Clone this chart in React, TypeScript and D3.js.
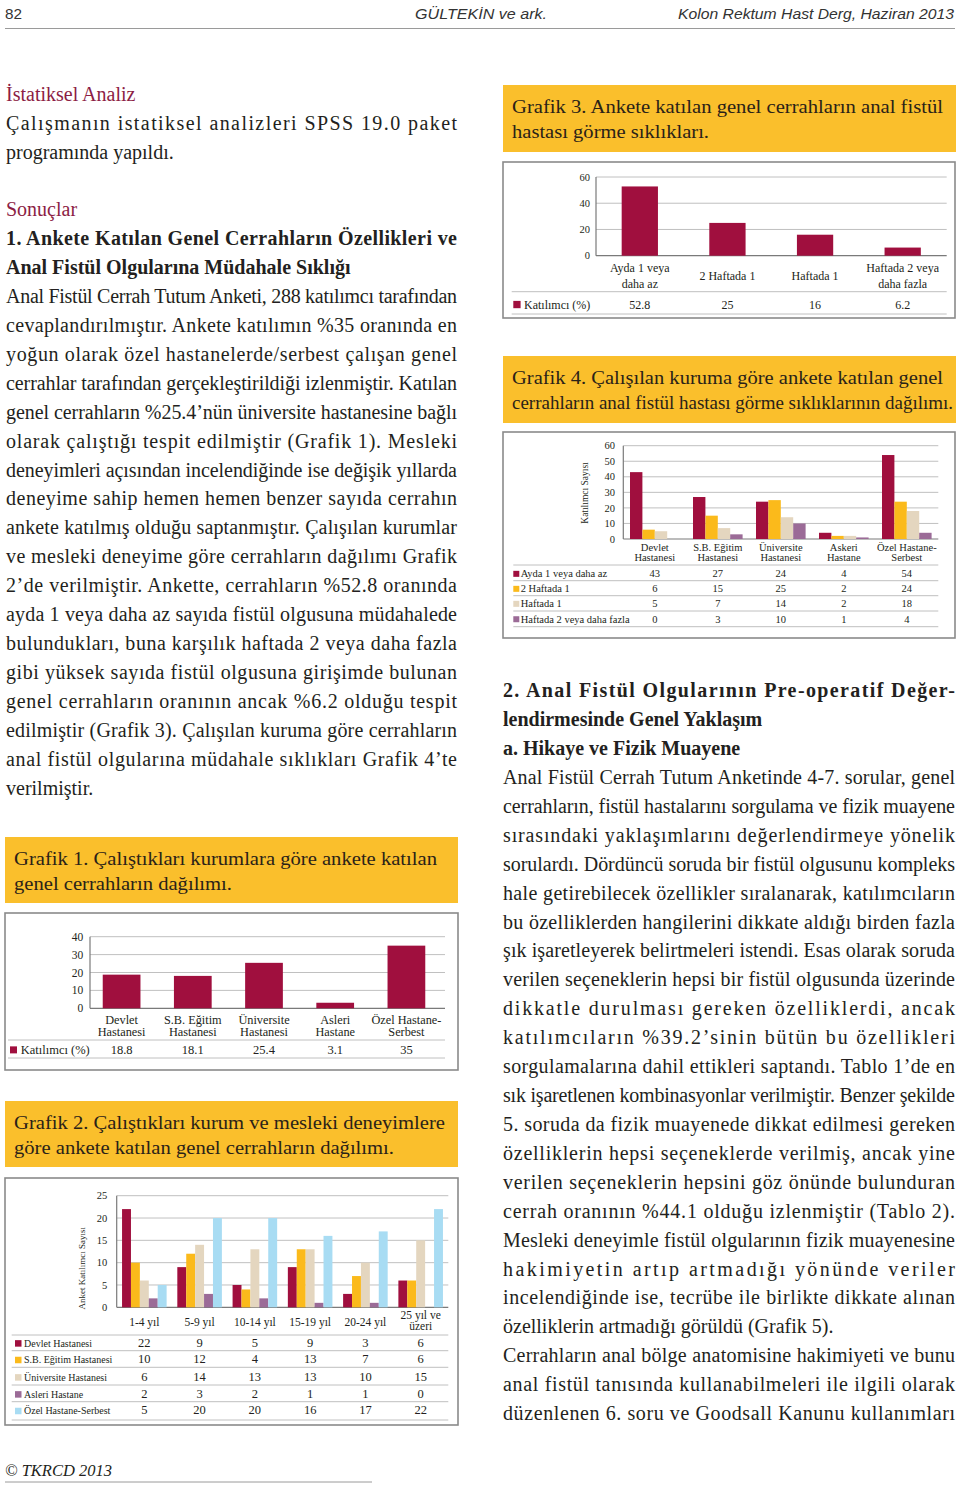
import React from "react";
import * as d3 from "d3";

const SERIF = "'Liberation Serif', 'Times New Roman', serif";
const SANS = "'Liberation Sans', Arial, sans-serif";
const INK = "#231f20";
const MAROON_HEAD = "#8c1d44";
const CAPTION_BG = "#fabf2c";

// ---------- Chart data ----------
// Grafik 1
const g1Categories = ["Devlet\nHastanesi", "S.B. Eğitim\nHastanesi", "Üniversite\nHastanesi", "Asleri\nHastane", "Özel Hastane-\nSerbest"];
const g1Values = [18.8, 18.1, 25.4, 3.1, 35];
const g1Ticks = [0, 10, 20, 30, 40];
const g1SeriesName = "Katılımcı (%)";

// Grafik 2
const g2Categories = ["1-4 yıl", "5-9 yıl", "10-14 yıl", "15-19 yıl", "20-24 yıl", "25 yıl ve\nüzeri"];
const g2SeriesNames = ["Devlet Hastanesi", "S.B. Eğitim Hastanesi", "Üniversite Hastanesi", "Asleri Hastane", "Özel Hastane-Serbest"];
const g2Devlet = [22, 9, 5, 9, 3, 6];
const g2Egitim = [10, 12, 4, 13, 7, 6];
const g2Universite = [6, 14, 13, 13, 10, 15];
const g2Askeri = [2, 3, 2, 1, 1, 0];
const g2Ozel = [5, 20, 20, 16, 17, 22];
const g2Ticks = [0, 5, 10, 15, 20, 25];

// Grafik 3
const g3Categories = ["Ayda 1 veya\ndaha az", "2 Haftada 1", "Haftada 1", "Haftada 2 veya\ndaha fazla"];
const g3Values = [52.8, 25, 16, 6.2];
const g3Ticks = [0, 20, 40, 60];
const g3SeriesName = "Katılımcı (%)";

// Grafik 4
const g4Categories = ["Devlet\nHastanesi", "S.B. Eğitim\nHastanesi", "Üniversite\nHastanesi", "Askeri\nHastane", "Özel Hastane-\nSerbest"];
const g4SeriesNames = ["Ayda 1 veya daha az", "2 Haftada 1", "Haftada 1", "Haftada 2 veya daha fazla"];
const g4Ayda = [43, 27, 24, 4, 54];
const g4IkiHafta = [6, 15, 25, 2, 24];
const g4Haftada1 = [5, 7, 14, 2, 18];
const g4Haftada2 = [0, 3, 10, 1, 4];
const g4Ticks = [0, 10, 20, 30, 40, 50, 60];

const COLORS = ["#a00f3e", "#fbba1b", "#e4d6bf", "#9b6b97", "#a8dcf3"];

// ---------- Page text ----------
type Line = [string, string, boolean]; // text, style, justify
const leftLines: Line[] = [
  ["İstatiksel Analiz", "head", false],
  ["Çalışmanın istatiksel analizleri SPSS 19.0 paket", "body", true],
  ["programında yapıldı.", "body", false],
  ["", "body", false],
  ["Sonuçlar", "head", false],
  ["1. Ankete Katılan Genel Cerrahların Özellikleri ve", "bold", true],
  ["Anal Fistül Olgularına Müdahale Sıklığı", "bold", false],
  ["Anal Fistül Cerrah Tutum Anketi, 288 katılımcı tarafından", "body", true],
  ["cevaplandırılmıştır. Ankete katılımın %35 oranında en", "body", true],
  ["yoğun olarak özel hastanelerde/serbest çalışan genel", "body", true],
  ["cerrahlar tarafından gerçekleştirildiği izlenmiştir. Katılan", "body", true],
  ["genel cerrahların %25.4’nün üniversite hastanesine bağlı", "body", true],
  ["olarak çalıştığı tespit edilmiştir (Grafik 1). Mesleki", "body", true],
  ["deneyimleri açısından incelendiğinde ise değişik yıllarda", "body", true],
  ["deneyime sahip hemen hemen benzer sayıda cerrahın", "body", true],
  ["ankete katılmış olduğu saptanmıştır. Çalışılan kurumlar", "body", true],
  ["ve mesleki deneyime göre cerrahların dağılımı Grafik", "body", true],
  ["2’de verilmiştir. Ankette, cerrahların %52.8 oranında", "body", true],
  ["ayda 1 veya daha az sayıda fistül olgusuna müdahalede", "body", true],
  ["bulundukları, buna karşılık haftada 2 veya daha fazla", "body", true],
  ["gibi yüksek sayıda fistül olgusuna girişimde bulunan", "body", true],
  ["genel cerrahların oranının ancak %6.2 olduğu tespit", "body", true],
  ["edilmiştir (Grafik 3). Çalışılan kuruma göre cerrahların", "body", true],
  ["anal fistül olgularına müdahale sıklıkları Grafik 4’te", "body", true],
  ["verilmiştir.", "body", false],
];
const rightLines: Line[] = [
  ["2. Anal Fistül Olgularının Pre-operatif Değer-", "bold", true],
  ["lendirmesinde Genel Yaklaşım", "bold", false],
  ["a. Hikaye ve Fizik Muayene", "bold", false],
  ["Anal Fistül Cerrah Tutum Anketinde 4-7. sorular, genel", "body", true],
  ["cerrahların, fistül hastalarını sorgulama ve fizik muayene", "body", true],
  ["sırasındaki yaklaşımlarını değerlendirmeye yönelik", "body", true],
  ["sorulardı. Dördüncü soruda bir fistül olgusunu kompleks", "body", true],
  ["hale getirebilecek özellikler sıralanarak, katılımcıların", "body", true],
  ["bu özelliklerden hangilerini dikkate aldığı birden fazla", "body", true],
  ["şık işaretleyerek belirtmeleri istendi. Esas olarak soruda", "body", true],
  ["verilen seçeneklerin hepsi bir fistül olgusunda üzerinde", "body", true],
  ["dikkatle durulması gereken özelliklerdi, ancak", "body", true],
  ["katılımcıların %39.2’sinin bütün bu özellikleri", "body", true],
  ["sorgulamalarına dahil ettikleri saptandı. Tablo 1’de en", "body", true],
  ["sık işaretlenen kombinasyonlar verilmiştir. Benzer şekilde", "body", true],
  ["5. soruda da fizik muayenede dikkat edilmesi gereken", "body", true],
  ["özelliklerin hepsi seçeneklerde verilmiş, ancak yine", "body", true],
  ["verilen seçeneklerin hepsini göz önünde bulunduran", "body", true],
  ["cerrah oranının %44.1 olduğu izlenmiştir (Tablo 2).", "body", true],
  ["Mesleki deneyimle fistül olgularının fizik muayenesine", "body", true],
  ["hakimiyetin artıp artmadığı yönünde veriler", "body", true],
  ["incelendiğinde ise, tecrübe ile birlikte dikkate alınan", "body", true],
  ["özelliklerin artmadığı görüldü (Grafik 5).", "body", false],
  ["Cerrahların anal bölge anatomisine hakimiyeti ve bunu", "body", true],
  ["anal fistül tanısında kullanabilmeleri ile ilgili olarak", "body", true],
  ["düzenlenen 6. soru ve Goodsall Kanunu kullanımları", "body", true],
];

// caption lines with their printed widths
const caption1: [string, number][] = [["Grafik 1. Çalıştıkları kurumlara göre ankete katılan", 423], ["genel cerrahların dağılımı.", 218]];
const caption2: [string, number][] = [["Grafik 2. Çalıştıkları kurum ve mesleki deneyimlere", 431], ["göre ankete katılan genel cerrahların dağılımı.", 380]];
const caption3: [string, number][] = [["Grafik 3. Ankete katılan genel cerrahların anal fistül", 431], ["hastası görme sıklıkları.", 197]];
const caption4: [string, number][] = [["Grafik 4. Çalışılan kuruma göre ankete katılan genel", 431], ["cerrahların anal fistül hastası görme sıklıklarının dağılımı.", 441]];

const FONT_SIZE = 20;
const CAPTION_SIZE = 19;
const PITCH = 28.91;

function Column({ lines, x, y0, width }: { lines: Line[]; x: number; y0: number; width: number }) {
  return (
    <g>
      {lines.map(([t, style, just], i) =>
        t ? (
          <text
            key={i}
            x={x}
            y={y0 + i * PITCH}
            fontFamily={SERIF}
            fontSize={FONT_SIZE}
            fontWeight={style === "bold" ? "bold" : "normal"}
            fill={style === "head" ? MAROON_HEAD : INK}
            {...(just ? { textLength: width, lengthAdjust: "spacing" } : {})}
          >
            {t}
          </text>
        ) : null
      )}
    </g>
  );
}

function Caption({ box, lines }: { box: number[]; lines: [string, number][] }) {
  const [x, y, w, h] = box;
  return (
    <g>
      <rect x={x} y={y} width={w} height={h} fill={CAPTION_BG} />
      {lines.map(([t, len], i) => (
        <text
          key={i}
          x={x + 9}
          y={y + 27.5 + i * 25}
          fontFamily={SERIF}
          fontSize={CAPTION_SIZE}
          fill="#2a2218"
          textLength={len}
          lengthAdjust="spacingAndGlyphs"
        >
          {t}
        </text>
      ))}
    </g>
  );
}

type Series = { name: string; color: string; values: number[] };
type ChartProps = {
  box: number[];
  axisX: number;
  gridRight: number;
  yTop: number;
  yBottom: number;
  yMax: number;
  ticks: number[];
  tickRight: number;
  tickFont: number;
  categories: string[];
  series: Series[];
  bandRange: [number, number];
  barPadInner?: number;
  groupPadOuter?: number;
  catFont: number;
  catTwo: [number, number];
  catOne: number;
  tableLeft: number;
  tableLines: number[];
  rowBaselines: number[];
  legendSquareX: number;
  legendSquareSize: number;
  legendTextX: number;
  legendFont: number;
  valueFont: number;
  yTitle?: { text: string; x: number; y: number; font: number };
};

function BarChart(p: ChartProps) {
  const [bx, by, bw, bh] = p.box;
  const y = d3.scaleLinear().domain([0, p.yMax]).range([p.yBottom, p.yTop]);
  const single = p.series.length === 1;
  const x = d3
    .scaleBand()
    .domain(p.categories)
    .range(p.bandRange)
    .paddingInner(single ? p.barPadInner ?? 0.5 : 0)
    .paddingOuter(single ? (p.barPadInner ?? 0.5) / 2 : 0);
  const inner = d3
    .scaleBand()
    .domain(p.series.map((s) => s.name))
    .range([0, x.bandwidth()])
    .paddingInner(0)
    .paddingOuter(single ? 0 : p.groupPadOuter ?? 0.5);
  const center = (c: string) => (x(c) as number) + x.bandwidth() / 2;
  return (
    <g>
      <rect x={bx} y={by} width={bw} height={bh} fill="#fff" stroke="#8a8a8a" strokeWidth={1.6} />
      {p.ticks.map((t) => (
        <g key={t}>
          <line
            x1={p.axisX}
            x2={p.gridRight}
            y1={y(t)}
            y2={y(t)}
            stroke={t === 0 ? "#7a7a7a" : "#b9b9b9"}
            strokeWidth={t === 0 ? 1.2 : 0.9}
          />
          <text x={p.tickRight} y={y(t) + p.tickFont * 0.35} textAnchor="end" fontFamily={SERIF} fontSize={p.tickFont} fill={INK}>
            {t}
          </text>
        </g>
      ))}
      <line x1={p.axisX} x2={p.axisX} y1={p.yTop} y2={p.yBottom} stroke="#7a7a7a" strokeWidth={1.2} />
      {p.series.map((s) =>
        p.categories.map((c, i) => (
          <rect
            key={s.name + c}
            x={(x(c) as number) + (inner(s.name) as number)}
            y={y(s.values[i])}
            width={inner.bandwidth()}
            height={p.yBottom - y(s.values[i])}
            fill={s.color}
          />
        ))
      )}
      {p.categories.map((c) => {
        const parts = c.split("\n");
        return parts.map((t, j) => (
          <text
            key={c + j}
            x={center(c)}
            y={parts.length === 1 ? p.catOne : p.catTwo[j]}
            textAnchor="middle"
            fontFamily={SERIF}
            fontSize={p.catFont}
            fill={INK}
          >
            {t}
          </text>
        ));
      })}
      {p.tableLines.map((ly, i) => (
        <line key={"tl" + i} x1={p.tableLeft} x2={p.gridRight} y1={ly} y2={ly} stroke="#b9b9b9" strokeWidth={0.9} />
      ))}
      {p.series.map((s, si) => {
        const base = p.rowBaselines[si];
        return (
          <g key={"row" + s.name}>
            <rect
              x={p.legendSquareX}
              y={base - p.legendFont * 0.33 - p.legendSquareSize / 2}
              width={p.legendSquareSize}
              height={p.legendSquareSize}
              fill={s.color}
            />
            <text x={p.legendTextX} y={base} fontFamily={SERIF} fontSize={p.legendFont} fill={INK}>
              {s.name}
            </text>
            {p.categories.map((c, i) => (
              <text key={c} x={center(c)} y={base} textAnchor="middle" fontFamily={SERIF} fontSize={p.valueFont} fill={INK}>
                {s.values[i]}
              </text>
            ))}
          </g>
        );
      })}
      {p.yTitle && (
        <text
          transform={`translate(${p.yTitle.x},${p.yTitle.y}) rotate(-90)`}
          textAnchor="middle"
          dominantBaseline="central"
          fontFamily={SERIF}
          fontSize={p.yTitle.font}
          fill={INK}
        >
          {p.yTitle.text}
        </text>
      )}
    </g>
  );
}

export default function App() {
  const g1Series: Series[] = [{ name: g1SeriesName, color: COLORS[0], values: g1Values }];
  const g2Series: Series[] = [g2Devlet, g2Egitim, g2Universite, g2Askeri, g2Ozel].map((v, i) => ({
    name: g2SeriesNames[i],
    color: COLORS[i],
    values: v,
  }));
  const g3Series: Series[] = [{ name: g3SeriesName, color: COLORS[0], values: g3Values }];
  const g4Series: Series[] = [g4Ayda, g4IkiHafta, g4Haftada1, g4Haftada2].map((v, i) => ({
    name: g4SeriesNames[i],
    color: COLORS[i],
    values: v,
  }));

  return (
    <svg
      width={960}
      height={1486}
      viewBox="0 0 960 1486"
      style={{ position: "absolute", left: 0, top: 0, display: "block" }}
    >
      <rect x={0} y={0} width={960} height={1486} fill="#fff" />
      {/* header */}
      <text x={5} y={19} fontFamily={SANS} fontSize={15.5} fill="#333" textLength={17} lengthAdjust="spacingAndGlyphs">
        82
      </text>
      <text x={415} y={19} fontFamily={SANS} fontStyle="italic" fontSize={15.5} fill="#333" textLength={132} lengthAdjust="spacingAndGlyphs">
        GÜLTEKİN ve ark.
      </text>
      <text x={678} y={19} fontFamily={SANS} fontStyle="italic" fontSize={15.5} fill="#333" textLength={276} lengthAdjust="spacingAndGlyphs">
        Kolon Rektum Hast Derg, Haziran 2013
      </text>
      <line x1={5} x2={955} y1={28.5} y2={28.5} stroke="#9a9a9a" strokeWidth={1} />

      <Column lines={leftLines} x={6} y0={100.7} width={451} />
      <Column lines={rightLines} x={503} y0={697.3} width={452} />

      <Caption box={[503, 85, 453, 67]} lines={caption3} />
      <BarChart
        box={[503, 162, 452, 156]}
        axisX={596}
        gridRight={946.7}
        yTop={177}
        yBottom={255.7}
        yMax={60}
        ticks={g3Ticks}
        tickRight={590}
        tickFont={10.5}
        categories={g3Categories}
        series={g3Series}
        bandRange={[596, 946.5]}
        barPadInner={0.586}
        catFont={12}
        catTwo={[272.3, 288]}
        catOne={280}
        tableLeft={511.7}
        tableLines={[291.7, 314]}
        rowBaselines={[308.5]}
        legendSquareX={513.3}
        legendSquareSize={7.3}
        legendTextX={524}
        legendFont={12}
        valueFont={12}
      />

      <Caption box={[503, 356, 453, 67]} lines={caption4} />
      <BarChart
        box={[503, 432, 452, 206]}
        axisX={623.3}
        gridRight={938.3}
        yTop={445.7}
        yBottom={539}
        yMax={60}
        ticks={g4Ticks}
        tickRight={615}
        tickFont={10.5}
        categories={g4Categories}
        series={g4Series}
        bandRange={[623.3, 938.3]}
        groupPadOuter={0.54}
        catFont={10.5}
        catTwo={[550.7, 560.7]}
        catOne={555}
        tableLeft={513.3}
        tableLines={[565, 580.7, 595.7, 611, 626.7]}
        rowBaselines={[577.3, 592.3, 607.3, 622.7]}
        legendSquareX={513.3}
        legendSquareSize={6}
        legendTextX={520.7}
        legendFont={10.5}
        valueFont={10.5}
        yTitle={{ text: "Katılımcı Sayısı", x: 585, y: 493, font: 9.5 }}
      />

      <Caption box={[5, 837, 453, 66]} lines={caption1} />
      <BarChart
        box={[5, 913, 453, 157]}
        axisX={90}
        gridRight={445}
        yTop={936.7}
        yBottom={1008.3}
        yMax={40}
        ticks={g1Ticks}
        tickRight={83.3}
        tickFont={11.5}
        categories={g1Categories}
        series={g1Series}
        bandRange={[86, 442]}
        barPadInner={0.47}
        catFont={12.3}
        catTwo={[1024, 1036]}
        catOne={1030}
        tableLeft={8}
        tableLines={[1040, 1058]}
        rowBaselines={[1054]}
        legendSquareX={10}
        legendSquareSize={7}
        legendTextX={20.7}
        legendFont={12.5}
        valueFont={12.5}
      />

      <Caption box={[5, 1101, 453, 66]} lines={caption2} />
      <BarChart
        box={[5, 1178, 453, 247]}
        axisX={116.7}
        gridRight={448.3}
        yTop={1195.7}
        yBottom={1307.3}
        yMax={25}
        ticks={g2Ticks}
        tickRight={107.3}
        tickFont={10.5}
        categories={g2Categories}
        series={g2Series}
        bandRange={[116.7, 448.3]}
        groupPadOuter={0.6}
        catFont={11.5}
        catTwo={[1318.5, 1329.5]}
        catOne={1325.7}
        tableLeft={11.7}
        tableLines={[1335, 1350.7, 1367.3, 1385, 1401.7, 1420]}
        rowBaselines={[1346.7, 1363.3, 1380.7, 1397.7, 1414.3]}
        legendSquareX={15}
        legendSquareSize={6.5}
        legendTextX={24}
        legendFont={10}
        valueFont={12.5}
        yTitle={{ text: "Anket Katılımcı Sayısı", x: 81.7, y: 1268.3, font: 9 }}
      />

      {/* footer */}
      <text x={5} y={1476} fontFamily={SERIF} fontStyle="italic" fontSize={16} fill={INK} textLength={107} lengthAdjust="spacingAndGlyphs">
        © TKRCD 2013
      </text>
      <line x1={5} x2={372} y1={1482} y2={1482} stroke="#9a9a9a" strokeWidth={1} />
    </svg>
  );
}
